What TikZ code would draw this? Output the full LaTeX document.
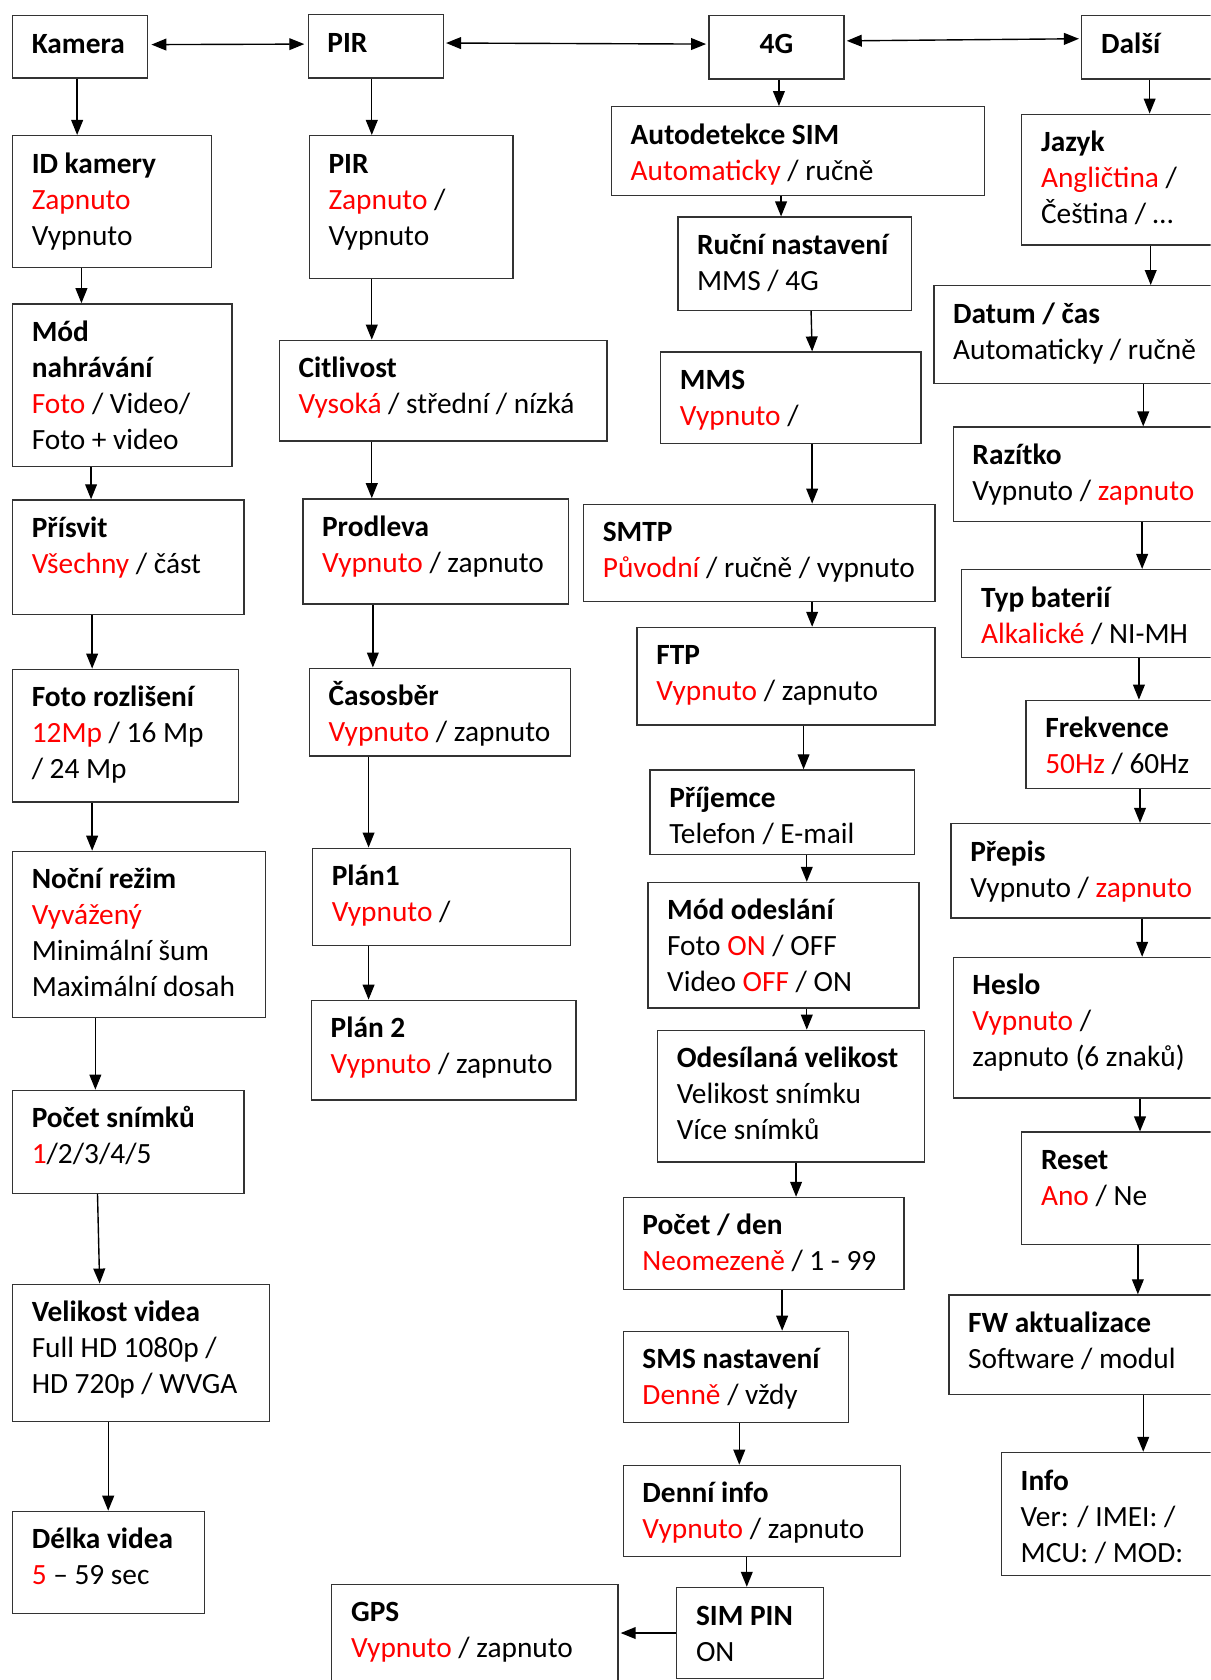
\documentclass[tikz,border=0pt]{standalone}
\usepackage{fontspec}
\setmainfont{Carlito}
\usetikzlibrary{arrows.meta, positioning}
\definecolor{optRed}{RGB}{255,0,0}
\definecolor{boxGray}{gray}{0.2}
\newcommand{\opt}[1]{\textcolor{optRed}{#1}}

\begin{document}
\begin{tikzpicture}[x=1pt, y=-1pt, >={Triangle[length=14pt,width=11pt]},
    menu/.style={draw=boxGray, line width=1.3pt, anchor=north west, align=flush left,
      inner xsep=18pt, inner ysep=0pt, text height=35pt,
      font=\fontsize{27.4}{33.6}\selectfont},
    arr/.style={->, line width=1.3pt}]
    \clip (0,0) rectangle (1130,1568);
    \fill[white] (0,0) rectangle (1130,1568);

    % Top row
    \node[menu, text width=90pt, text depth=23pt] (kamera) at (11,14) {\textbf{Kamera}};
    \node[menu, text width=90pt, text depth=24pt] (pirtop) at (287,13) {\textbf{PIR}};
    \node[menu, text width=90pt, text depth=24pt, align=center] (g4) at (661,14) {\textbf{4G}};
    \node[menu, text width=105pt, text depth=24pt] (dalsi) at (1009,14) {\textbf{Další}};

    % Kamera
    \node[menu, text width=150pt, text depth=88pt] (idkam) at (11,126) {\textbf{ID kamery}\\ \opt{Zapnuto}\\ Vypnuto};
    \node[menu, text width=169pt, text depth=117pt] (modnah) at (11,283) {\textbf{Mód}\\ \textbf{nahrávání}\\ \opt{Foto} / Video/\\ Foto + video};
    \node[menu, text width=180pt, text depth=72pt] (prisvit) at (11,466) {\textbf{Přísvit}\\ \opt{Všechny} / část};
    \node[menu, text width=175pt, text depth=89pt] (fotorozl) at (11,624) {\textbf{Foto rozlišení}\\ \opt{12Mp} / 16 Mp\\ / 24 Mp};
    \node[menu, text width=200pt, text depth=120pt] (nocni) at (11,794) {\textbf{Noční režim}\\ \opt{Vyvážený}\\ Minimální šum\\ Maximální dosah};
    \node[menu, text width=180pt, text depth=61pt] (pocsnim) at (11,1017) {\textbf{Počet snímků}\\ \opt{1}/2/3/4/5};
    \node[menu, text width=204pt, text depth=93pt] (velvid) at (11,1198) {\textbf{Velikost videa}\\ Full HD 1080p /\\ HD 720p / WVGA};
    \node[menu, text width=143pt, text depth=60pt] (delka) at (11,1410) {\textbf{Délka videa}\\ \opt{5} -- 59 sec};

    % PIR
    \node[menu, text width=154pt, text depth=98pt] (pir) at (288,126) {\textbf{PIR}\\ \opt{Zapnuto} /\\ Vypnuto};
    \node[menu, text width=270pt, text depth=59pt] (citliv) at (260,317) {\textbf{Citlivost}\\ \opt{Vysoká} / střední / nízká};
    \node[menu, text width=212pt, text depth=63pt] (prodl) at (282,465) {\textbf{Prodleva}\\ \opt{Vypnuto} / zapnuto};
    \node[menu, text width=208pt, text depth=47pt] (casosb) at (288,623) {\textbf{Časosběr}\\ \opt{Vypnuto} / zapnuto};
    \node[menu, text width=205pt, text depth=56pt] (plan1) at (291,791) {\textbf{Plán1}\\ \opt{Vypnuto} /};
    \node[menu, text width=211pt, text depth=58pt] (plan2) at (290,933) {\textbf{Plán 2}\\ \opt{Vypnuto} / zapnuto};
    \node[menu, text width=231pt, text depth=75pt] (gps) at (309,1478) {\textbf{GPS}\\ \opt{Vypnuto} / zapnuto};

    % 4G
    \node[menu, text width=312pt, text depth=48pt] (autodet) at (570,99) {\textbf{Autodetekce SIM}\\ \opt{Automaticky} / ručně};
    \node[menu, text width=182pt, text depth=52pt] (rucni) at (632,202) {\textbf{Ruční nastavení}\\ MMS / 4G};
    \node[menu, text width=207pt, text depth=50pt] (mms) at (616,328) {\textbf{MMS}\\ \opt{Vypnuto} /};
    \node[menu, text width=292pt, text depth=56pt] (smtp) at (544,470) {\textbf{SMTP}\\ \opt{Původní} / ručně / vypnuto};
    \node[menu, text width=242pt, text depth=56pt] (ftp) at (594,585) {\textbf{FTP}\\ \opt{Vypnuto} / zapnuto};
    \node[menu, text width=211pt, text depth=44pt] (prijem) at (606,718) {\textbf{Příjemce}\\ Telefon / E-mail};
    \node[menu, text width=217pt, text depth=82pt] (mododes) at (604,823) {\textbf{Mód odeslání}\\ Foto \opt{ON} / OFF\\ Video \opt{OFF} / ON};
    \node[menu, text width=213pt, text depth=88pt] (odesvel) at (613,961) {\textbf{Odesílaná velikost}\\ Velikost snímku\\ Více snímků};
    \node[menu, text width=226pt, text depth=51pt] (pocden) at (581,1117) {\textbf{Počet / den}\\ \opt{Neomezeně} / 1 - 99};
    \node[menu, text width=174pt, text depth=50pt] (smsnast) at (581,1242) {\textbf{SMS nastavení}\\ \opt{Denně} / vždy};
    \node[menu, text width=223pt, text depth=50pt] (denni) at (581,1367) {\textbf{Denní info}\\ \opt{Vypnuto} / zapnuto};
    \node[menu, text width=101pt, text depth=50pt] (simpin) at (631,1481) {\textbf{SIM PIN}\\ ON};

    % Další
    \node[menu, text width=161pt, text depth=87pt] (jazyk) at (953,106) {\textbf{Jazyk}\\ \opt{Angličtina} /\\ Čeština / …};
    \node[menu, text width=243pt, text depth=56pt] (datum) at (871,266) {\textbf{Datum / čas}\\ Automaticky / ručně};
    \node[menu, text width=225pt, text depth=53pt] (razitko) at (889,398) {\textbf{Razítko}\\ Vypnuto / \opt{zapnuto}};
    \node[menu, text width=217pt, text depth=47pt] (typbat) at (897,531) {\textbf{Typ baterií}\\ \opt{Alkalické} / NI-MH};
    \node[menu, text width=157pt, text depth=47pt] (frekv) at (957,653) {\textbf{Frekvence}\\ \opt{50Hz} / 60Hz};
    \node[menu, text width=227pt, text depth=53pt] (prepis) at (887,768) {\textbf{Přepis}\\ Vypnuto / \opt{zapnuto}};
    \node[menu, text width=225pt, text depth=96pt] (heslo) at (889,893) {\textbf{Heslo}\\ \opt{Vypnuto} /\\ zapnuto (6 znaků)};
    \node[menu, text width=161pt, text depth=70pt] (reset) at (953,1056) {\textbf{Reset}\\ \opt{Ano} / Ne};
    \node[menu, text width=229pt, text depth=58pt] (fwakt) at (885,1208) {\textbf{FW aktualizace}\\ Software / modul};
    \node[menu, text width=180pt, text depth=80pt] (info) at (934,1355) {\textbf{Info}\\ Ver: / IMEI: /\\ MCU: / MOD:};

    % Top arrows
    \draw[<->, line width=1.3pt, shorten <=3pt, shorten >=3pt] ([yshift=2]kamera.east) -- ([yshift=2]pirtop.west);
    \draw[<->, line width=1.3pt, shorten <=2pt, shorten >=2pt] ([yshift=3]pirtop.east) -- ([yshift=3]g4.west);
    \draw[<->, line width=1.3pt, shorten <=2pt, shorten >=2pt] ([yshift=6]g4.east) -- ([yshift=8]dalsi.west);

    % Column arrows
    \foreach \a/\b/\s/\t in {kamera/idkam/61/61, idkam/modnah/65/65, modnah/prisvit/74/74,
        prisvit/fotorozl/75/75, fotorozl/nocni/75/75, nocni/pocsnim/78/78,
        pocsnim/velvid/80/82, velvid/delka/90/90,
        pirtop/pir/60/59, pir/citliv/59/87, citliv/prodl/87/65, prodl/casosb/66/60,
        casosb/plan1/56/53, plan1/plan2/53/54,
        g4/autodet/66/157, autodet/rucni/159/97, rucni/mms/125/142, mms/smtp/142/214,
        smtp/ftp/214/164, ftp/prijem/156/144, prijem/mododes/147/149, mododes/odesvel/149/140,
        odesvel/pocden/130/162, pocden/smsnast/149/149, smsnast/denni/109/109, denni/simpin/116/66,
        dalsi/jazyk/64/120, jazyk/datum/121/203, datum/razitko/196/178, razitko/typbat/177/169,
        typbat/frekv/166/106, frekv/prepis/107/177, prepis/heslo/179/177, heslo/reset/175/111,
        reset/fwakt/109/177, fwakt/info/182/133}
      \draw[arr] ([xshift=\s]\a.south west) -- ([xshift=\t]\b.north west);

    \draw[arr, shorten >=2pt] (simpin.west) -- (simpin.west -| gps.east);
\end{tikzpicture}
\end{document}
